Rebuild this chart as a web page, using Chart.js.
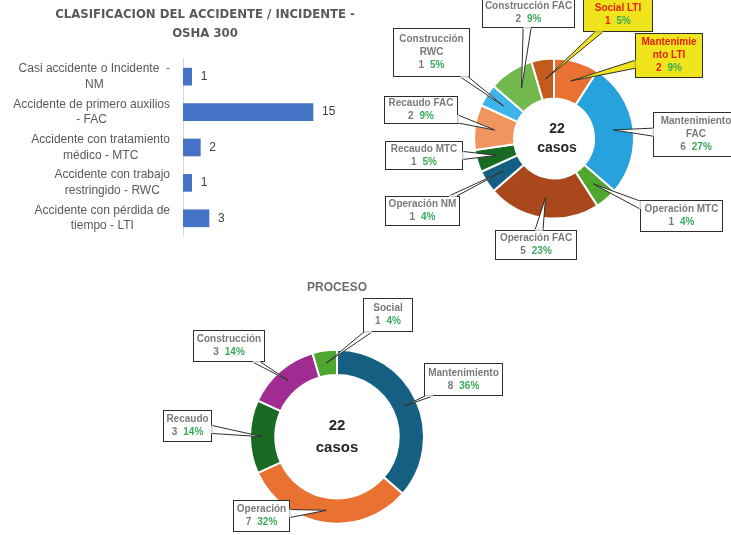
<!DOCTYPE html>
<html>
<head>
<meta charset="utf-8">
<title>Accidentes OSHA 300</title>
<script src="https://cdn.jsdelivr.net/npm/chart.js@4.4.1/dist/chart.umd.min.js"></script>
<style>
  body { margin: 0; background: #fff; width: 731px; height: 535px; overflow: hidden; position: relative; }
  canvas { position: absolute; }
  #c1 { left: 0; top: 0; }
  #c2 { left: 370px; top: 0; }
  #c3 { left: 150px; top: 275px; }
</style>
</head>
<body>
<canvas id="c1" width="410" height="250"></canvas>
<canvas id="c2" width="361" height="265"></canvas>
<canvas id="c3" width="370" height="260"></canvas>
<script>
// ---- datos ----
const tiposAccidente = [
    ['Casi accidente o Incidente  -', 'NM'],
    ['Accidente de primero auxilios', '- FAC'],
    ['Accidente con tratamiento', 'médico - MTC'],
    ['Accidente con trabajo', 'restringido - RWC'],
    ['Accidente con pérdida de', 'tiempo - LTI']
];
const casosPorTipo = [1, 15, 2, 1, 3];

const procesoTipo = [
    ['Mantenimie', 'nto LTI'],
    ['Mantenimiento', 'FAC'],
    ['Operación MTC'],
    ['Operación FAC'],
    ['Operación NM'],
    ['Recaudo MTC'],
    ['Recaudo FAC'],
    ['Construcción', 'RWC'],
    ['Construcción FAC'],
    ['Social LTI']
];
const casosProcesoTipo = [2, 6, 1, 5, 1, 1, 2, 1, 2, 1];
const pctProcesoTipo = ['9%', '27%', '4%', '23%', '4%', '5%', '9%', '5%', '9%', '5%'];

const procesos = ['Mantenimiento', 'Operación', 'Recaudo', 'Construcción', 'Social'];
const casosProceso = [8, 7, 3, 3, 1];
const pctProceso = ['36%', '32%', '14%', '14%', '4%'];

// ---- estilos ----
const coloresTipo = ['#E97132', '#27A2DC', '#4EA72E', '#A8481C', '#156082',
                     '#196B24', '#F0955E', '#3DB5EA', '#72B84C', '#C45A1E'];
const coloresProceso = ['#156082', '#E97132', '#196B24', '#A02B93', '#4EA72E'];

const amarillo = { fill: '#F0E41C', color: '#E8200C' };
// cajas de llamada (x, y, ancho, alto) en pixeles del canvas
const cajasTipo = [
    Object.assign({ x: 265, y: 33, w: 68, h: 45 }, amarillo),
    { x: 283, y: 112, w: 86, h: 45 },
    { x: 270, y: 200, w: 83, h: 32 },
    { x: 125, y: 230, w: 82, h: 30 },
    { x: 15, y: 196, w: 75, h: 30 },
    { x: 15, y: 141, w: 78, h: 29 },
    { x: 14, y: 96, w: 74, h: 28 },
    { x: 23, y: 28, w: 77, h: 49 },
    { x: 112, y: -2, w: 93, h: 30 },
    Object.assign({ x: 213, y: -2, w: 70, h: 34 }, amarillo)
];
const cajasProceso = [
    { x: 274, y: 88, w: 79, h: 33 },
    { x: 83, y: 225, w: 57, h: 32 },
    { x: 13, y: 135, w: 49, h: 32 },
    { x: 43, y: 55, w: 72, h: 32 },
    { x: 213, y: 23, w: 50, h: 34 }
];

const fuente = '"Liberation Sans", Arial, sans-serif';

// etiquetas del eje y (centradas por bloque, como Excel) y valores de las barras
const etiquetasBarras = {
    id: 'etiquetasBarras',
    afterDraw(chart) {
        const ctx = chart.ctx;
        const y = chart.scales.y;
        ctx.save();
        ctx.font = '12px ' + fuente;
        ctx.fillStyle = '#595959';
        ctx.textAlign = 'center';
        ctx.textBaseline = 'middle';
        chart.data.labels.forEach((lbl, i) => {
            const yc = y.getPixelForTick(i);
            const w = Math.max(...lbl.map(l => ctx.measureText(l).width));
            const xc = y.right - 13 - w / 2;
            lbl.forEach((l, k) => ctx.fillText(l, xc, yc + (k - (lbl.length - 1) / 2) * 15.5));
        });
        const meta = chart.getDatasetMeta(0);
        ctx.textAlign = 'left';
        ctx.fillStyle = '#404040';
        meta.data.forEach((bar, i) => {
            ctx.fillText(chart.data.datasets[0].data[i], bar.x + 9, bar.y);
        });
        ctx.restore();
    }
};

// llamadas con puntero hacia cada porción
const crearLlamadas = (cajas, pct) => ({
    id: 'llamadas',
    afterDatasetsDraw(chart) {
        const ctx = chart.ctx;
        const meta = chart.getDatasetMeta(0);
        const valores = chart.data.datasets[0].data;
        ctx.save();
        meta.data.forEach((arc, i) => {
            const b = cajas[i];
            const fill = b.fill || '#ffffff';
            const tip = arc.tooltipPosition();
            const cx = b.x + b.w / 2, cy = b.y + b.h / 2;
            const dx = tip.x - cx, dy = tip.y - cy;
            const tx = (b.w / 2) / Math.max(Math.abs(dx), 0.001);
            const ty = (b.h / 2) / Math.max(Math.abs(dy), 0.001);
            const t = Math.min(tx, ty);
            const ex = cx + dx * t, ey = cy + dy * t;
            let p1, p2;
            if (ty < tx) {
                const x = Math.min(Math.max(ex, b.x + 5), b.x + b.w - 5);
                p1 = [x - 4, ey]; p2 = [x + 4, ey];
            } else {
                const yy = Math.min(Math.max(ey, b.y + 5), b.y + b.h - 5);
                p1 = [ex, yy - 4]; p2 = [ex, yy + 4];
            }
            ctx.lineWidth = 1;
            ctx.strokeStyle = '#2e2e2e';
            ctx.fillStyle = fill;
            ctx.beginPath();
            ctx.moveTo(p1[0], p1[1]);
            ctx.lineTo(tip.x, tip.y);
            ctx.lineTo(p2[0], p2[1]);
            ctx.closePath();
            ctx.fill();
            ctx.stroke();
            ctx.fillRect(b.x, b.y, b.w, b.h);
            ctx.strokeRect(b.x + 0.5, b.y + 0.5, b.w - 1, b.h - 1);
            ctx.strokeStyle = fill;
            ctx.lineWidth = 1.5;
            ctx.beginPath();
            ctx.moveTo(p1[0], p1[1]);
            ctx.lineTo(p2[0], p2[1]);
            ctx.stroke();

            // texto
            let lines = chart.data.labels[i];
            if (!Array.isArray(lines)) lines = [lines];
            const lh = 13;
            const y0 = cy - (lines.length) * lh / 2;
            ctx.font = 'bold 10px ' + fuente;
            ctx.textBaseline = 'middle';
            ctx.textAlign = 'center';
            ctx.fillStyle = b.color || '#7A7A7A';
            lines.forEach((l, k) => ctx.fillText(l, cx, y0 + k * lh));
            const v = String(valores[i]);
            const p = pct[i];
            const wv = ctx.measureText(v).width, wp = ctx.measureText(p).width;
            const gap = 6;
            const xs = cx - (wv + gap + wp) / 2;
            const yv = y0 + lines.length * lh;
            ctx.textAlign = 'left';
            ctx.fillText(v, xs, yv);
            ctx.fillStyle = '#3AAA5A';
            ctx.fillText(p, xs + wv + gap, yv);
        });
        ctx.restore();
    }
});

// total de casos en el centro
const crearCentro = (size, gap, dx) => ({
    id: 'centroTexto',
    afterDraw(chart) {
        const ctx = chart.ctx;
        const arc = chart.getDatasetMeta(0).data[0];
        const total = chart.data.datasets[0].data.reduce((a, b) => a + b, 0);
        ctx.save();
        ctx.font = 'bold ' + size + 'px ' + fuente;
        ctx.fillStyle = '#262626';
        ctx.textAlign = 'center';
        ctx.textBaseline = 'middle';
        ctx.fillText(total, arc.x + dx, arc.y - gap / 2);
        ctx.fillText('casos', arc.x + dx, arc.y + gap / 2);
        ctx.restore();
    }
});

new Chart(document.getElementById('c1'), {
    type: 'bar',
    data: {
        labels: tiposAccidente,
        datasets: [{
            data: casosPorTipo,
            backgroundColor: '#4472C4',
            barThickness: 17
        }]
    },
    options: {
        indexAxis: 'y',
        responsive: false,
        animation: false,
        layout: { padding: { left: 0, right: 0, top: 0, bottom: 14 } },
        scales: {
            x: { display: false, min: 0, max: 26.2 },
            y: {
                grid: { display: false },
                border: { color: '#D9D9D9' },
                ticks: { display: false },
                afterFit: (s) => { s.width = 183; }
            }
        },
        plugins: {
            legend: { display: false },
            tooltip: { enabled: false },
            title: {
                display: true,
                text: ['CLASIFICACION DEL ACCIDENTE / INCIDENTE -', 'OSHA 300'],
                color: '#595959',
                font: { family: '"Liberation Sans Narrow", "DejaVu Sans Condensed", sans-serif', size: 13, weight: 'bold', lineHeight: 1.46 },
                padding: { top: 5, bottom: 16 }
            }
        }
    },
    plugins: [etiquetasBarras]
});

new Chart(document.getElementById('c2'), {
    type: 'doughnut',
    data: {
        labels: procesoTipo,
        datasets: [{
            data: casosProcesoTipo,
            backgroundColor: coloresTipo,
            borderColor: '#fff',
            borderWidth: 2
        }]
    },
    options: {
        responsive: false,
        animation: false,
        cutout: '50%',
        layout: { padding: { left: 103, right: 96, top: 57, bottom: 45 } },
        plugins: {
            legend: { display: false },
            tooltip: { enabled: false }
        }
    },
    plugins: [crearLlamadas(cajasTipo, pctProcesoTipo), crearCentro(14, 19, 3)]
});

new Chart(document.getElementById('c3'), {
    type: 'doughnut',
    data: {
        labels: procesos,
        datasets: [{
            data: casosProceso,
            backgroundColor: coloresProceso,
            borderColor: '#fff',
            borderWidth: 2
        }]
    },
    options: {
        responsive: false,
        animation: false,
        cutout: '71%',
        layout: { padding: { left: 99, right: 95, top: 0, bottom: 10 } },
        plugins: {
            legend: { display: false },
            tooltip: { enabled: false },
            title: {
                display: true,
                text: 'PROCESO',
                color: '#6E6E6E',
                font: { family: fuente, size: 12, weight: 'bold', lineHeight: 1.2 },
                padding: { top: 5, bottom: 54 }
            }
        }
    },
    plugins: [crearLlamadas(cajasProceso, pctProceso), crearCentro(15, 22, 0)]
});
</script>
</body>
</html>
